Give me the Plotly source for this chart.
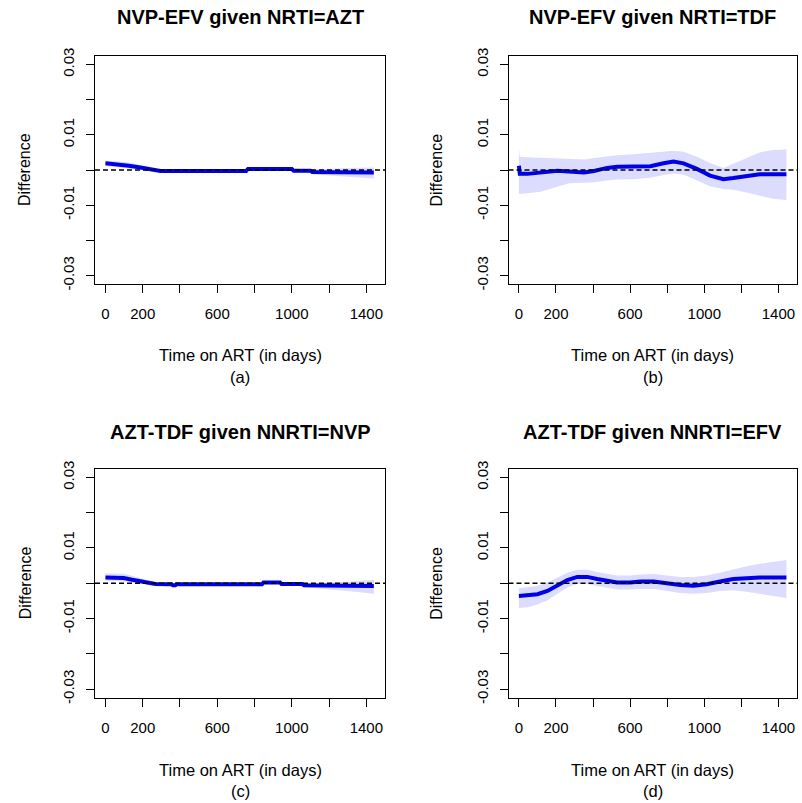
import plotly.graph_objects as go

# ---------------- data ----------------
titles = ["NVP-EFV given NRTI=AZT", "NVP-EFV given NRTI=TDF",
          "AZT-TDF given NNRTI=NVP", "AZT-TDF given NNRTI=EFV"]
panel_tags = ["(a)", "(b)", "(c)", "(d)"]
x_title = "Time on ART (in days)"
y_title = "Difference"

x_tickvals = [0, 200, 400, 600, 800, 1000, 1200, 1400]
x_ticktext = ["0", "200", "", "600", "", "1000", "", "1400"]
y_tickvals = [-0.03, -0.02, -0.01, 0.0, 0.01, 0.02, 0.03]
y_ticktext = ["-0.03", "", "-0.01", "", "0.01", "", "0.03"]

days_a = [0, 54, 125, 180, 240, 295, 500, 755, 765, 1000, 1010, 1100, 1110, 1300, 1440]
est_a = [0.0019, 0.0017, 0.0012, 0.0008, 0.0002, -0.0003, -0.0003, -0.0003, 0.0003, 0.0003,
         -0.0002, -0.0002, -0.0006, -0.0007, -0.0007]
hi_a = [0.0027, 0.0025, 0.0021, 0.0015, 0.0007, 0.0001, 0.0001, 0.0001, 0.0007, 0.0007,
        0.0003, 0.0003, 0.0002, 0.0006, 0.0007]
lo_a = [0.0011, 0.0009, 0.0004, 0.0000, -0.0003, -0.0007, -0.0007, -0.0007, -0.0001, -0.0001,
        -0.0007, -0.0008, -0.0012, -0.0019, -0.0024]

days_b = [0, 5, 46, 118, 208, 270, 351, 405, 476, 530, 620, 709, 780, 834, 888, 960, 1031,
          1103, 1156, 1228, 1299, 1370, 1443]
est_b = [0.0012, -0.0011, -0.0011, -0.0008, -0.0002, -0.0004, -0.0007, -0.0003, 0.0006, 0.0009,
         0.0010, 0.0011, 0.0019, 0.0024, 0.0019, 0.0003, -0.0016, -0.0026, -0.0023, -0.0018,
         -0.0012, -0.0012, -0.0012]
hi_b = [0.0062, 0.0038, 0.0036, 0.0035, 0.0032, 0.0031, 0.0030, 0.0034, 0.0039, 0.0042, 0.0045,
        0.0049, 0.0053, 0.0055, 0.0052, 0.0038, 0.0020, 0.0006, 0.0018, 0.0035, 0.0050, 0.0057,
        0.0058]
lo_b = [-0.0068, -0.0068, -0.0066, -0.0062, -0.0047, -0.0038, -0.0036, -0.0035, -0.0030, -0.0027,
        -0.0026, -0.0022, -0.0014, -0.0010, -0.0013, -0.0030, -0.0046, -0.0054, -0.0056, -0.0064,
        -0.0074, -0.0082, -0.0085]

days_c = [0, 98, 143, 214, 268, 355, 362, 375, 382, 840, 848, 937, 945, 1055, 1065, 1300, 1440]
est_c = [0.0016, 0.0015, 0.0010, 0.0003, -0.0002, -0.0003, -0.0006, -0.0006, -0.0003, -0.0003,
         0.0002, 0.0002, -0.0002, -0.0002, -0.0006, -0.0007, -0.0008]
hi_c = [0.0028, 0.0027, 0.0021, 0.0009, 0.0002, 0.0000, -0.0002, -0.0002, 0.0000, 0.0000,
        0.0006, 0.0006, 0.0002, 0.0002, -0.0001, 0.0004, 0.0010]
lo_c = [0.0007, 0.0006, 0.0002, -0.0003, -0.0006, -0.0007, -0.0010, -0.0010, -0.0007, -0.0006,
        -0.0002, -0.0002, -0.0006, -0.0007, -0.0011, -0.0022, -0.0030]

days_d = [0, 46, 100, 154, 208, 261, 315, 369, 422, 476, 530, 601, 655, 727, 798, 870, 941,
          1013, 1085, 1156, 1228, 1299, 1443]
est_d = [-0.0036, -0.0035, -0.0031, -0.0022, -0.0007, 0.0009, 0.0018, 0.0018, 0.0012, 0.0007,
         0.0002, 0.0002, 0.0005, 0.0005, 0.0000, -0.0005, -0.0007, -0.0003, 0.0005, 0.0012,
         0.0014, 0.0016, 0.0016]
hi_d = [-0.0014, -0.0012, -0.0008, 0.0002, 0.0016, 0.0030, 0.0038, 0.0038, 0.0032, 0.0026,
        0.0022, 0.0022, 0.0025, 0.0026, 0.0022, 0.0018, 0.0018, 0.0022, 0.0030, 0.0040, 0.0048,
        0.0055, 0.0066]
lo_d = [-0.0070, -0.0068, -0.0060, -0.0048, -0.0030, -0.0012, -0.0002, -0.0002, -0.0008, -0.0013,
        -0.0018, -0.0018, -0.0016, -0.0016, -0.0022, -0.0028, -0.0030, -0.0028, -0.0022, -0.0020,
        -0.0024, -0.0030, -0.0042]

panels = [(days_a, est_a, lo_a, hi_a), (days_b, est_b, lo_b, hi_b),
          (days_c, est_c, lo_c, hi_c), (days_d, est_d, lo_d, hi_d)]

# ---------------- layout helpers ----------------
W, H = 802, 803
FONT = "Liberation Sans, Arial, sans-serif"
LINE_BLUE = "#0000E8"
BAND = "rgb(220,220,255)"


def xp(px):
    return px / W


def yp(py):
    return 1 - py / H


# box pixel positions: (left, right, top, bottom)
boxes = [(95, 385, 56, 284), (508.5, 797, 56, 284),
         (95, 385, 469, 697.5), (508.5, 797, 469, 697.5)]

fig = go.Figure()
layout = dict(width=W, height=H, margin=dict(l=0, r=0, t=0, b=0, autoexpand=False),
              paper_bgcolor="white", plot_bgcolor="white", showlegend=False,
              font=dict(family=FONT, color="black"))
annotations = []
shapes = []

for i, (days, est, lo, hi) in enumerate(panels):
    n = i + 1
    xa = "x" if n == 1 else f"x{n}"
    ya = "y" if n == 1 else f"y{n}"
    # confidence band
    fig.add_trace(go.Scatter(x=days, y=lo, mode="lines", line=dict(width=0, color=BAND),
                             xaxis=xa, yaxis=ya, hoverinfo="skip"))
    fig.add_trace(go.Scatter(x=days, y=hi, mode="lines", line=dict(width=0, color=BAND),
                             fill="tonexty", fillcolor=BAND, xaxis=xa, yaxis=ya,
                             hoverinfo="skip"))
    # estimate
    fig.add_trace(go.Scatter(x=days, y=est, mode="lines",
                             line=dict(width=4, color=LINE_BLUE), xaxis=xa, yaxis=ya))

    L, R, T, B = boxes[i]
    axkey = "xaxis" if n == 1 else f"xaxis{n}"
    aykey = "yaxis" if n == 1 else f"yaxis{n}"
    layout[axkey] = dict(domain=[xp(L), xp(R)], range=[-56, 1500], anchor=ya,
                         automargin=False,
                         showline=True, linecolor="black", linewidth=1, mirror=True,
                         ticks="outside", ticklen=8, tickwidth=1, tickcolor="black",
                         tickvals=x_tickvals, ticktext=x_ticktext, ticklabelstandoff=8,
                         tickfont=dict(size=15, family=FONT, color="black"),
                         showgrid=False, zeroline=False)
    layout[aykey] = dict(domain=[yp(B), yp(T)], range=[-0.0324, 0.0324], anchor=xa,
                         automargin=False,
                         showline=True, linecolor="black", linewidth=1, mirror=True,
                         ticks="outside", ticklen=8, tickwidth=1, tickcolor="black",
                         tickvals=y_tickvals, ticktext=y_ticktext, tickangle=-90,
                         ticklabelstandoff=6,
                         tickfont=dict(size=15, family=FONT, color="black"),
                         showgrid=False, zeroline=False)
    # dashed zero line
    shapes.append(dict(type="line", xref=f"{xa} domain", yref=ya, x0=0, x1=1, y0=0, y1=0,
                       line=dict(color="black", width=1.4, dash="5px,3px"), layer="above"))
    cx = (L + R) / 2
    top_row = i < 2
    annotations.append(dict(text=f"<b>{titles[i]}</b>", x=xp(cx), y=yp(17 if top_row else 432),
                            xref="paper", yref="paper", showarrow=False,
                            xanchor="center", yanchor="middle",
                            font=dict(size=20, family=FONT, color="black")))
    annotations.append(dict(text=x_title, x=xp(cx), y=yp(355 if top_row else 770),
                            xref="paper", yref="paper", showarrow=False,
                            xanchor="center", yanchor="middle",
                            font=dict(size=16.5, family=FONT, color="black")))
    annotations.append(dict(text=panel_tags[i], x=xp(cx), y=yp(377 if top_row else 791),
                            xref="paper", yref="paper", showarrow=False,
                            xanchor="center", yanchor="middle",
                            font=dict(size=16.5, family=FONT, color="black")))
    annotations.append(dict(text=y_title, x=xp(L - 70 if i % 2 == 0 else L - 72),
                            y=yp((T + B) / 2), xref="paper", yref="paper", showarrow=False,
                            textangle=-90, xanchor="center", yanchor="middle",
                            font=dict(size=16, family=FONT, color="black")))

layout["annotations"] = annotations
layout["shapes"] = shapes
fig.update_layout(**layout)
fig.write_html("out.html", config={"displayModeBar": False},
               post_script="document.body.style.margin='0';")
